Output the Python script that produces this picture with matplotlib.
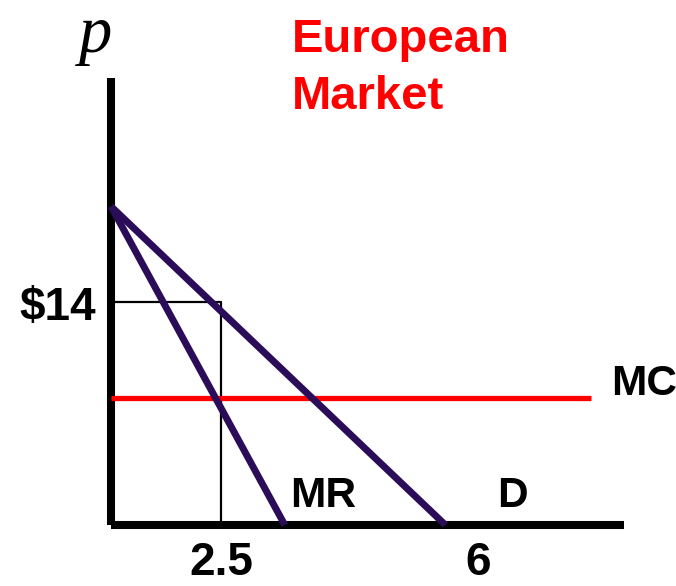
import matplotlib
matplotlib.use("Agg")
import matplotlib.pyplot as plt

# Data (quantity, price)
demand_q = [0.0, 7.6]
demand_p = [20.0, 0.0]
mr_q = [0.0, 3.95]
mr_p = [20.0, 0.0]
mc_value = 8.0
mc_q = [0.0, 10.9]
q_star = 2.5
p_star = 14.0
tick_pos = [2.5, 8.35]
tick_labels = ["2.5", "6"]
price_label = "\\$14"

W, H, DPI = 6.76, 5.86, 100
fig = plt.figure(figsize=(W, H), dpi=DPI)
ax = fig.add_axes([0, 0, 1, 1])
# pixel mapping: origin at (111, 525), 44 px per Q unit, 15.93 px per $ unit
ax.set_xlim((0 - 111) / 44, (676 - 111) / 44)
ax.set_ylim((525 - 586) / 15.93, 525 / 15.93)
ax.axis("off")

purple = "#2A0C58"
red = "#FF0000"

# axes lines
ax.plot([0, 0], [0, 28.05], color="black", lw=5.8, solid_capstyle="butt")
ax.plot([0, 11.65], [0, 0], color="black", lw=5.8, solid_capstyle="butt")

# thin guide box
ax.plot([0, q_star, q_star], [p_star, p_star, 0], color="black", lw=1.6)

# MC
ax.plot(mc_q, [mc_value, mc_value], color=red, lw=3.8, solid_capstyle="butt")
# demand and MR
ax.plot(demand_q, demand_p, color=purple, lw=5.0, solid_capstyle="butt")
ax.plot(mr_q, mr_p, color=purple, lw=5.0, solid_capstyle="butt")

bold_num = dict(family="Liberation Sans", fontweight="bold", fontsize=33)
bold_lbl = dict(family="Liberation Sans", fontweight="bold", fontsize=30.5)

ax.text(-0.34, p_star - 0.4, price_label, ha="right", va="center", **bold_num)
for pos, lab in zip(tick_pos, tick_labels):
    ax.text(pos, -2.4, lab, ha="center", va="center", **bold_num)

ax.text(11.37, 8.85, "MC", ha="left", va="center", **bold_lbl)
ax.text(4.06, 1.82, "MR", ha="left", va="center", **bold_lbl)
ax.text(8.78, 1.82, "D", ha="left", va="center", **bold_lbl)

title = dict(family="Liberation Sans", fontweight="bold", fontsize=34, color=red,
             ha="left", va="baseline")
ax.text(4.1, (525 - 52) / 15.93, "European", **title)
ax.text(4.1, (525 - 109) / 15.93, "Market", **title)

ax.text(-0.36, 30.75, "p", ha="center", va="center", family="Liberation Serif",
        fontstyle="italic", fontsize=48)

fig.savefig("out.png", dpi=DPI)
